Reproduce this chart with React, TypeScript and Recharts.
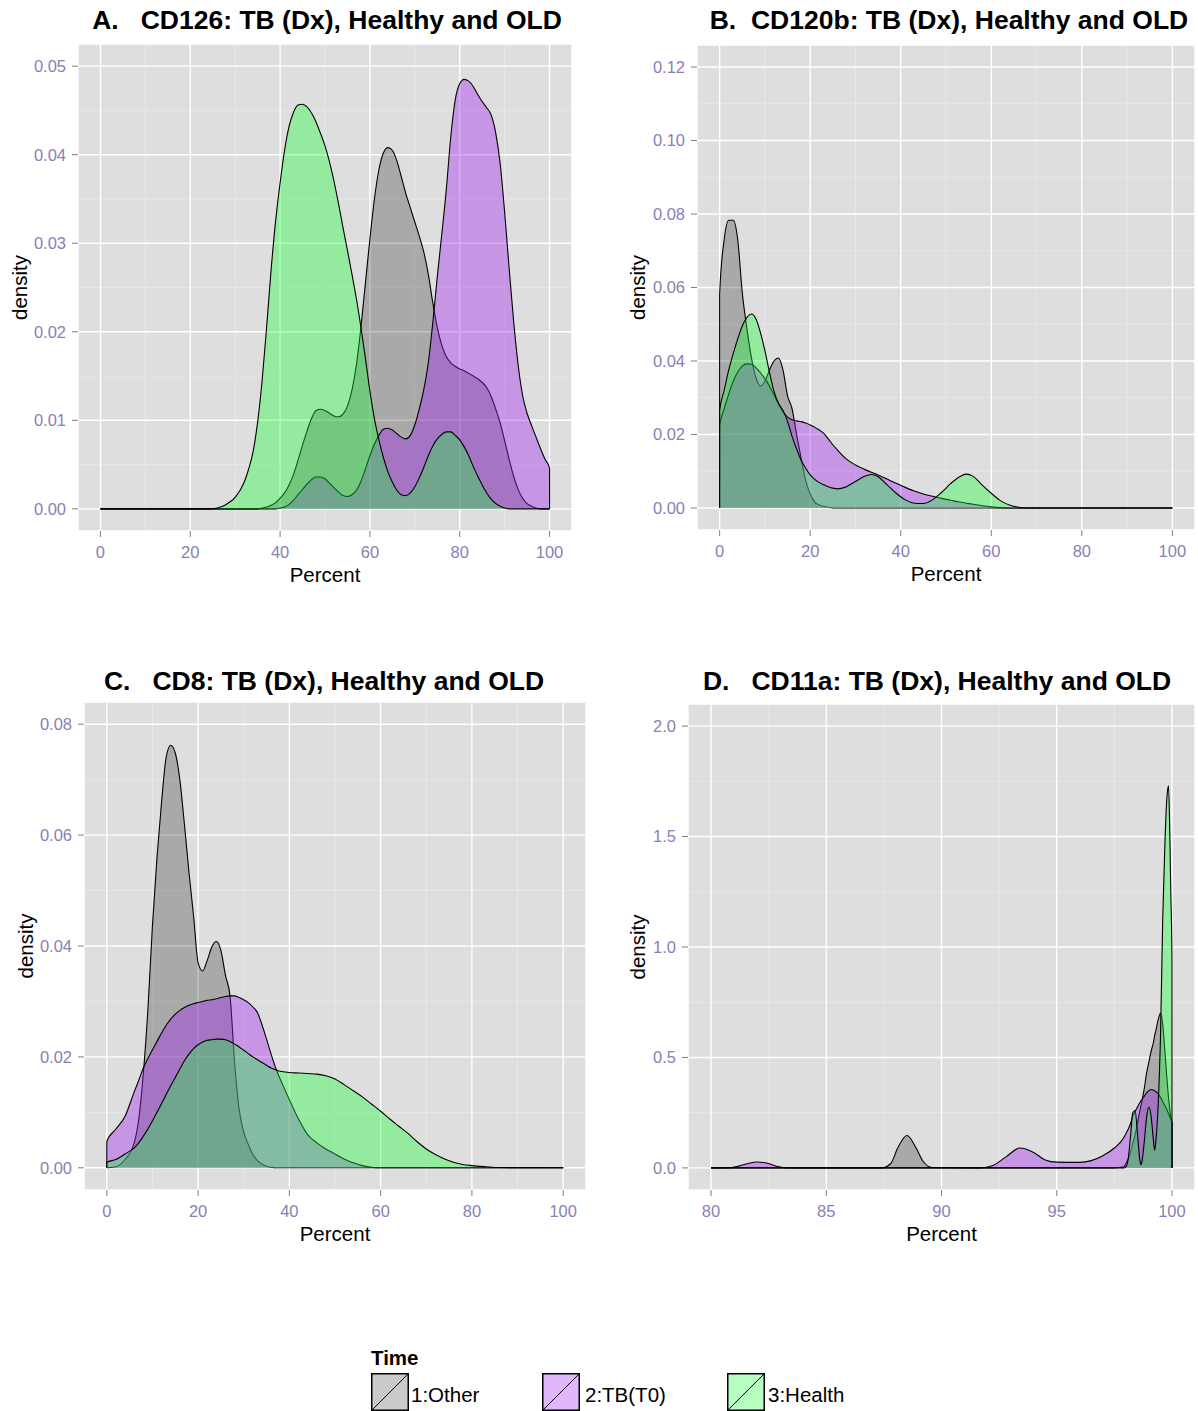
import React from 'react';
import { AreaChart, Area, XAxis, YAxis, CartesianGrid } from 'recharts';

const FONT = '"Liberation Sans", Arial, Helvetica, sans-serif';
const BG = '#DEDEDE';
const MINOR = '#EAEAEA';
const MAJOR = '#FFFFFF';
const TICK_TEXT = '#8A80B5';
const TICK_LINE = '#7F7F7F';

const SERIES = [
  { key: 'other', name: '1:Other', fill: '#000000', opacity: 0.24 },
  { key: 'tb', name: '2:TB(T0)', fill: '#A020F0', opacity: 0.38 },
  { key: 'health', name: '3:Health', fill: '#10FF30', opacity: 0.36 },
];

// ---------- Panel A: CD126 ----------
const aX = [0, 24, 26, 28, 30, 32, 33, 34, 35, 36, 37, 38, 39, 40, 41, 42, 43, 44, 45, 46, 47, 48, 49, 50, 51, 52, 53, 54, 55, 56, 57, 58, 59, 60, 61, 62, 63, 64, 65, 66, 67, 68, 69, 70, 71, 72, 73, 74, 75, 76, 77, 78, 79, 80, 81, 82, 83, 84, 85, 86, 87, 88, 89, 90, 91, 92, 93, 94, 95, 96, 97, 98, 99, 100];
const aOther = [0, 0, 0, 0, 0, 0, 0, 0, 0, 0.0001, 0.0002, 0.0004, 0.0007, 0.0012, 0.0018, 0.0027, 0.0039, 0.0055, 0.0072, 0.0088, 0.0102, 0.0111, 0.01125, 0.0111, 0.0108, 0.0105, 0.0104, 0.0107, 0.0116, 0.0134, 0.0163, 0.0205, 0.0255, 0.0305, 0.035, 0.0383, 0.0402, 0.0408, 0.0405, 0.0393, 0.0375, 0.0356, 0.034, 0.0324, 0.0308, 0.029, 0.0265, 0.0233, 0.0205, 0.0185, 0.0172, 0.0165, 0.0161, 0.0158, 0.0156, 0.0153, 0.015, 0.0147, 0.0143, 0.0137, 0.0127, 0.0113, 0.0097, 0.0077, 0.0056, 0.0037, 0.0022, 0.0012, 0.0006, 0.0003, 0.0001, 0, 0, 0];
const aTB = [0, 0, 0, 0, 0, 0, 0, 0, 0, 0, 0, 0, 0, 0.0001, 0.0002, 0.0005, 0.001, 0.0016, 0.0022, 0.0028, 0.0033, 0.0036, 0.0036, 0.0034, 0.0029, 0.0024, 0.0019, 0.0015, 0.0014, 0.0016, 0.0021, 0.0031, 0.0045, 0.006, 0.0073, 0.0083, 0.009, 0.0091, 0.0089, 0.0085, 0.0081, 0.0079, 0.0083, 0.0095, 0.0113, 0.0135, 0.0165, 0.021, 0.0262, 0.031, 0.036, 0.042, 0.0462, 0.048, 0.0485, 0.0483, 0.0477, 0.0468, 0.046, 0.0453, 0.0445, 0.0425, 0.039, 0.0335, 0.0272, 0.0212, 0.0163, 0.0128, 0.0108, 0.0094, 0.0081, 0.0068, 0.0056, 0.0046];
const aHealth = [0, 0, 0.0001, 0.0005, 0.0013, 0.003, 0.0045, 0.0065, 0.0098, 0.0145, 0.0205, 0.027, 0.0325, 0.0368, 0.0405, 0.0432, 0.0448, 0.0456, 0.0457, 0.0454, 0.0447, 0.0437, 0.0424, 0.041, 0.0392, 0.037, 0.0345, 0.0318, 0.0292, 0.0265, 0.0237, 0.0205, 0.017, 0.0133, 0.0102, 0.0078, 0.0058, 0.0042, 0.003, 0.0021, 0.0016, 0.0015, 0.0018, 0.0025, 0.0035, 0.0047, 0.006, 0.0071, 0.0079, 0.0084, 0.0087, 0.0087, 0.0083, 0.0078, 0.007, 0.006, 0.0048, 0.0037, 0.0027, 0.0018, 0.0011, 0.0006, 0.0003, 0.0001, 0, 0, 0, 0, 0, 0, 0, 0, 0, 0];

// ---------- Panel B: CD120b ----------
const bX = [0, 1, 2, 3, 4, 5, 6, 7, 8, 9, 10, 11, 12, 13, 14, 15, 16, 17, 18, 19, 20, 21, 22, 23, 24, 25, 26, 28, 30, 32, 33.5, 35, 37, 39, 41, 43, 45, 47, 49, 51, 53, 54.5, 56, 58, 60, 62, 64, 66, 68, 100];
const bOther = [0.058, 0.073, 0.0783, 0.0783, 0.073, 0.0586, 0.049, 0.041, 0.0355, 0.0332, 0.0345, 0.0375, 0.04, 0.0408, 0.0375, 0.0305, 0.027, 0.02, 0.0135, 0.0075, 0.0038, 0.0016, 0.0008, 0.0004, 0.0002, 0, 0, 0, 0, 0, 0, 0, 0, 0, 0, 0, 0, 0, 0, 0, 0, 0, 0, 0, 0, 0, 0, 0, 0, 0];
const bTB = [0.0224, 0.027, 0.031, 0.0345, 0.037, 0.0386, 0.0392, 0.0391, 0.0382, 0.0368, 0.0352, 0.0332, 0.0308, 0.0283, 0.0262, 0.0247, 0.024, 0.0237, 0.0235, 0.0231, 0.0226, 0.022, 0.0212, 0.0203, 0.0188, 0.0172, 0.0158, 0.0133, 0.0117, 0.0105, 0.0097, 0.009, 0.0079, 0.0067, 0.0056, 0.0046, 0.0038, 0.0032, 0.0026, 0.0021, 0.0016, 0.0013, 0.001, 0.0006, 0.0003, 0.0001, 0, 0, 0, 0];
const bHealth = [0.0265, 0.032, 0.0375, 0.042, 0.046, 0.0495, 0.0518, 0.0528, 0.0515, 0.0478, 0.0428, 0.037, 0.0318, 0.0285, 0.0265, 0.0235, 0.0195, 0.016, 0.013, 0.0108, 0.009, 0.0078, 0.0069, 0.0063, 0.0058, 0.0054, 0.0052, 0.0058, 0.0072, 0.0086, 0.0091, 0.0085, 0.0063, 0.004, 0.0022, 0.0013, 0.0012, 0.0022, 0.0042, 0.0066, 0.0085, 0.0092, 0.0086, 0.0062, 0.004, 0.002, 0.0008, 0.0002, 0, 0];

// ---------- Panel C: CD8 ----------
const cX = [0, 2, 4, 6, 7, 8, 9, 10, 11, 12, 13, 14, 15, 16, 17, 18, 19, 20, 21, 22, 23, 24, 25, 26, 27, 28, 29, 30, 31, 32, 33, 34, 35, 36, 37, 38, 40, 42, 44, 46, 48, 50, 52, 54, 56, 58, 60, 62, 64, 66, 68, 70, 72, 74, 76, 78, 80, 83, 86, 100];
const cOther = [0, 0.0002, 0.0015, 0.0045, 0.0088, 0.017, 0.0285, 0.0437, 0.056, 0.066, 0.074, 0.0762, 0.0748, 0.07, 0.062, 0.0533, 0.0455, 0.037, 0.0355, 0.0374, 0.0398, 0.0408, 0.0392, 0.0347, 0.031, 0.019, 0.0105, 0.0065, 0.0042, 0.0024, 0.0013, 0.0007, 0.0003, 0.0001, 0, 0, 0, 0, 0, 0, 0, 0, 0, 0, 0, 0, 0, 0, 0, 0, 0, 0, 0, 0, 0, 0, 0, 0, 0, 0];
const cTB = [0.0048, 0.007, 0.0093, 0.0137, 0.0158, 0.018, 0.0197, 0.0213, 0.0228, 0.0243, 0.0257, 0.0268, 0.0277, 0.0284, 0.0289, 0.0293, 0.0296, 0.0298, 0.03, 0.0302, 0.0303, 0.0305, 0.0307, 0.0309, 0.031, 0.031, 0.0307, 0.0303, 0.0298, 0.029, 0.028, 0.0258, 0.0232, 0.0205, 0.018, 0.016, 0.0123, 0.0088, 0.006, 0.0045, 0.0034, 0.0025, 0.0016, 0.0009, 0.0004, 0.0001, 0, 0, 0, 0, 0, 0, 0, 0, 0, 0, 0, 0, 0, 0];
const cHealth = [0.001, 0.0015, 0.0025, 0.0036, 0.0045, 0.0057, 0.007, 0.0085, 0.01, 0.0116, 0.0132, 0.0148, 0.0163, 0.0178, 0.0193, 0.0205, 0.0215, 0.0222, 0.0227, 0.023, 0.0231, 0.0232, 0.0232, 0.0231, 0.0228, 0.0223, 0.0218, 0.0212, 0.0206, 0.02, 0.0195, 0.019, 0.0185, 0.018, 0.0177, 0.0174, 0.0172, 0.0171, 0.017, 0.0169, 0.0166, 0.016, 0.015, 0.0139, 0.0128, 0.0115, 0.0102, 0.0088, 0.0075, 0.0062, 0.0047, 0.0034, 0.0024, 0.0016, 0.001, 0.0006, 0.0004, 0.0002, 0.00005, 0];

// ---------- Panel D: CD11a ----------
const dX = [80, 80.8, 81.2, 81.6, 82, 82.4, 82.8, 83.2, 84, 87.4, 87.8, 88.1, 88.5, 88.9, 89.2, 89.6, 91.6, 92.2, 92.8, 93.4, 94, 94.5, 95, 96, 96.5, 97, 97.5, 97.9, 98, 98.1, 98.2, 98.3, 98.4, 98.5, 98.6, 98.65, 98.7, 98.8, 98.9, 99, 99.1, 99.2, 99.25, 99.3, 99.4, 99.5, 99.6, 99.7, 99.75, 99.8, 99.85, 99.9, 99.95, 100];
const dOther = [0, 0, 0, 0, 0, 0, 0, 0, 0, 0, 0.02, 0.09, 0.147, 0.09, 0.03, 0.002, 0, 0, 0, 0, 0, 0, 0, 0, 0, 0, 0, 0.005, 0.02, 0.04, 0.07, 0.11, 0.15, 0.2, 0.255, 0.28, 0.305, 0.36, 0.43, 0.48, 0.53, 0.57, 0.6, 0.62, 0.67, 0.7, 0.65, 0.52, 0.45, 0.38, 0.32, 0.27, 0.23, 0.2];
const dTB = [0, 0.001, 0.008, 0.02, 0.027, 0.022, 0.009, 0.001, 0, 0, 0, 0, 0, 0, 0, 0, 0, 0.01, 0.05, 0.09, 0.07, 0.036, 0.026, 0.025, 0.033, 0.055, 0.09, 0.135, 0.155, 0.175, 0.2, 0.235, 0.255, 0.275, 0.295, 0.303, 0.31, 0.325, 0.34, 0.35, 0.355, 0.352, 0.35, 0.345, 0.335, 0.32, 0.3, 0.28, 0.27, 0.26, 0.245, 0.232, 0.22, 0.205];
const dHealth = [0, 0, 0, 0, 0, 0, 0, 0, 0, 0, 0, 0, 0, 0, 0, 0, 0, 0, 0, 0, 0, 0, 0, 0, 0, 0, 0, 0, 0.005, 0.04, 0.14, 0.25, 0.26, 0.16, 0.04, 0.015, 0.03, 0.12, 0.23, 0.275, 0.23, 0.12, 0.08, 0.12, 0.28, 0.58, 1.13, 1.49, 1.62, 1.7, 1.73, 1.55, 1.25, 0.95];

// ---------- Axis tick labels ----------
const pctTicks = [0, 20, 40, 60, 80, 100];
const pctMinor = [10, 30, 50, 70, 90];
const dPctTicks = [80, 85, 90, 95, 100];
const dPctMinor = [82.5, 87.5, 92.5, 97.5];
const aYTicks = [0, 0.01, 0.02, 0.03, 0.04, 0.05];
const aYMinor = [0.005, 0.015, 0.025, 0.035, 0.045];
const bYTicks = [0, 0.02, 0.04, 0.06, 0.08, 0.1, 0.12];
const bYMinor = [0.01, 0.03, 0.05, 0.07, 0.09, 0.11];
const cYTicks = [0, 0.02, 0.04, 0.06, 0.08];
const cYMinor = [0.01, 0.03, 0.05, 0.07];
const dYTicks = [0, 0.5, 1, 1.5, 2];
const dYMinor = [0.25, 0.75, 1.25, 1.75];

function buildRows(xs: number[], o: number[], t: number[], h: number[], eps: number) {
  const rows = xs.map((x, i) => ({ x, other: o[i], tb: t[i], health: h[i] }));
  return [
    { x: xs[0] - eps, other: 0, tb: 0, health: 0 },
    ...rows,
    { x: xs[xs.length - 1] + eps, other: 0, tb: 0, health: 0 },
  ];
}

type PanelProps = {
  title: string;
  titleCenter: number;
  titleTop: number;
  left: number;
  top: number;
  width: number;
  height: number;
  marginTop: number;
  marginRight: number;
  yAxisWidth: number;
  xAxisHeight: number;
  xDomain: [number, number];
  xTicks: number[];
  xMinor: number[];
  yDomain: [number, number];
  yTicks: number[];
  yMinor: number[];
  yDigits: number;
  rows: any[];
};

function Panel(p: PanelProps) {
  return (
    <>
      <div
        style={{
          position: 'absolute',
          left: p.titleCenter - 320,
          width: 640,
          top: p.titleTop,
          textAlign: 'center',
          fontFamily: FONT,
          fontWeight: 'bold',
          fontSize: 26.5,
          lineHeight: '26.5px',
          whiteSpace: 'pre',
          color: '#000',
        }}
      >
        {p.title}
      </div>
      <div style={{ position: 'absolute', left: p.left, top: p.top }}>
        <AreaChart
          width={p.width}
          height={p.height}
          data={p.rows}
          margin={{ top: p.marginTop, right: p.marginRight, left: 0, bottom: 0 }}
          style={{ fontFamily: FONT }}
        >
          <CartesianGrid
            fill={BG}
            fillOpacity={1}
            stroke={MINOR}
            strokeWidth={0.8}
            horizontalValues={p.yMinor}
            verticalValues={p.xMinor}
          />
          <CartesianGrid stroke={MAJOR} strokeWidth={1.4} />
          <XAxis
            dataKey="x"
            type="number"
            domain={p.xDomain}
            ticks={p.xTicks}
            interval={0}
            allowDataOverflow
            axisLine={false}
            tickLine={{ stroke: TICK_LINE, strokeWidth: 1 }}
            tickSize={6}
            tickMargin={9}
            height={p.xAxisHeight}
            tick={{ fill: TICK_TEXT, fontSize: 16.5, fontFamily: FONT }}
            label={{ value: 'Percent', position: 'insideBottom', offset: 32, fill: '#000', fontSize: 20.5, fontFamily: FONT }}
          />
          <YAxis
            type="number"
            domain={p.yDomain}
            ticks={p.yTicks}
            interval={0}
            allowDataOverflow
            axisLine={false}
            tickLine={{ stroke: TICK_LINE, strokeWidth: 1 }}
            tickSize={6}
            tickMargin={6}
            width={p.yAxisWidth}
            tickFormatter={(v: number) => v.toFixed(p.yDigits)}
            tick={{ fill: TICK_TEXT, fontSize: 16.5, fontFamily: FONT }}
            label={{
              value: 'density',
              angle: -90,
              position: 'insideLeft',
              offset: 20,
              fill: '#000',
              fontSize: 20.5,
              fontFamily: FONT,
              style: { textAnchor: 'middle' },
            }}
          />
          {SERIES.map((s) => (
            <Area
              key={s.key}
              type="monotone"
              dataKey={s.key}
              name={s.name}
              baseValue={0}
              stroke="#000"
              strokeWidth={1.1}
              fill={s.fill}
              fillOpacity={s.opacity}
              dot={false}
              activeDot={false}
              isAnimationActive={false}
            />
          ))}
        </AreaChart>
      </div>
    </>
  );
}

function LegendKey({ x, color, opacity }: { x: number; color: string; opacity: number }) {
  return (
    <svg style={{ position: 'absolute', left: x, top: 1373 }} width={38} height={38}>
      <rect x={0} y={0} width={38} height={38} fill="#fff" />
      <rect x={0.75} y={0.75} width={36.5} height={36.5} fill={color} fillOpacity={opacity * 0.85} stroke="#000" strokeWidth={1.5} />
      <line x1={1} y1={37} x2={37} y2={1} stroke="#000" strokeWidth={1} />
    </svg>
  );
}

export default function App() {
  const rowsA = buildRows(aX, aOther, aTB, aHealth, 0.01);
  const rowsB = buildRows(bX, bOther, bTB, bHealth, 0.01);
  const rowsC = buildRows(cX, cOther, cTB, cHealth, 0.01);
  const rowsD = buildRows(dX, dOther, dTB, dHealth, 0.002);
  const legendX = [371, 542, 727];
  const labelX = [411, 585, 768];
  return (
    <div
      style={{
        position: 'absolute',
        left: 0,
        top: 0,
        width: 1198,
        height: 1411,
        background: '#fff',
        overflow: 'hidden',
        fontFamily: FONT,
      }}
    >
      <Panel
        title={'A.   CD126: TB (Dx), Healthy and OLD'}
        titleCenter={327}
        titleTop={7}
        left={0}
        top={34}
        width={580}
        height={580}
        marginTop={10}
        marginRight={8}
        yAxisWidth={78}
        xAxisHeight={83}
        xDomain={[-5, 105]}
        xTicks={pctTicks}
        xMinor={pctMinor}
        yDomain={[-0.0025, 0.0525]}
        yTicks={aYTicks}
        yMinor={aYMinor}
        yDigits={2}
        rows={rowsA}
      />
      <Panel
        title={'B.  CD120b: TB (Dx), Healthy and OLD'}
        titleCenter={949}
        titleTop={7}
        left={618}
        top={35}
        width={580}
        height={578}
        marginTop={10}
        marginRight={3}
        yAxisWidth={79}
        xAxisHeight={83}
        xDomain={[-5, 105]}
        xTicks={pctTicks}
        xMinor={pctMinor}
        yDomain={[-0.006, 0.126]}
        yTicks={bYTicks}
        yMinor={bYMinor}
        yDigits={2}
        rows={rowsB}
      />
      <Panel
        title={'C.   CD8: TB (Dx), Healthy and OLD'}
        titleCenter={324}
        titleTop={668}
        left={6}
        top={692}
        width={590}
        height={581}
        marginTop={10}
        marginRight={10}
        yAxisWidth={78}
        xAxisHeight={83}
        xDomain={[-5, 105]}
        xTicks={pctTicks}
        xMinor={pctMinor}
        yDomain={[-0.004, 0.084]}
        yTicks={cYTicks}
        yMinor={cYMinor}
        yDigits={2}
        rows={rowsC}
      />
      <Panel
        title={'D.   CD11a: TB (Dx), Healthy and OLD'}
        titleCenter={937}
        titleTop={668}
        left={618}
        top={694}
        width={580}
        height={579}
        marginTop={10}
        marginRight={3}
        yAxisWidth={70}
        xAxisHeight={83}
        xDomain={[79, 101]}
        xTicks={dPctTicks}
        xMinor={dPctMinor}
        yDomain={[-0.1, 2.1]}
        yTicks={dYTicks}
        yMinor={dYMinor}
        yDigits={1}
        rows={rowsD}
      />
      <div
        style={{
          position: 'absolute',
          left: 371,
          top: 1348,
          fontFamily: FONT,
          fontWeight: 'bold',
          fontSize: 20.5,
          lineHeight: '20.5px',
          color: '#000',
        }}
      >
        Time
      </div>
      {SERIES.map((s, i) => (
        <React.Fragment key={s.key}>
          <LegendKey x={legendX[i]} color={s.fill} opacity={s.opacity} />
          <div
            style={{
              position: 'absolute',
              left: labelX[i],
              top: 1385,
              fontFamily: FONT,
              fontSize: 20.5,
              lineHeight: '20.5px',
              color: '#000',
              whiteSpace: 'pre',
            }}
          >
            {s.name}
          </div>
        </React.Fragment>
      ))}
    </div>
  );
}
